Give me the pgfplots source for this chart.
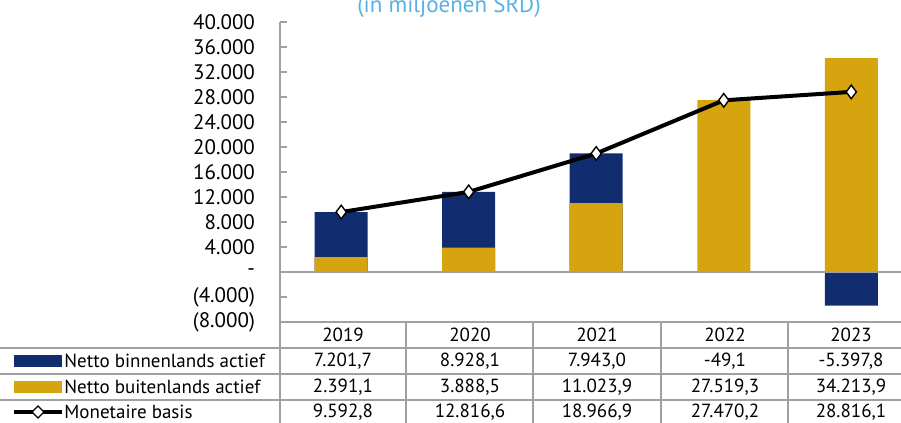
\documentclass[border=0pt]{standalone}
\usepackage{pgfplots}
\pgfplotsset{compat=1.18}
\usepackage{fontspec}
\setmainfont{PT Sans}
\definecolor{navy}{RGB}{18,44,112}
\definecolor{goldbar}{RGB}{214,164,14}
\definecolor{titleblue}{RGB}{86,178,230}
\definecolor{gridgray}{RGB}{160,160,160}
\begin{document}
\begin{tikzpicture}
\begin{axis}[
  at={(140pt,-161pt)}, anchor=south west,
  scale only axis, width=310.5pt, height=150pt,
  xmin=-0.48, xmax=4.39, ymin=-8000, ymax=40000,
  axis y line*=left, axis x line=none,
  y axis line style={gridgray, line width=0.9pt, -},
  scaled y ticks=false,
  ytick={-8000,-4000,...,40000},
  yticklabels={(8.000),(4.000),-,4.000,8.000,12.000,16.000,20.000,24.000,28.000,32.000,36.000,40.000},
  yticklabel style={font=\fontsize{10.5}{11}\selectfont, xshift=-9pt},
  ytick style={gridgray, line width=0.8pt},
  tick align=inside, major tick length=3.5pt,
  clip=false,
]
% blue: total height where positive (binnenlands sits on top of buitenlands), own value where negative
\addplot[ybar, bar width=26.5pt, bar shift=0pt, fill=navy, draw=none]
  coordinates {(0,9592.8) (1,12816.6) (2,18966.9) (3,-49.1) (4,-5397.8)};
\addplot[ybar, bar width=26.5pt, bar shift=0pt, fill=goldbar, draw=none]
  coordinates {(0,2391.1) (1,3888.5) (2,11023.9) (3,27519.3) (4,34213.9)};
\draw[gridgray, line width=0.9pt] (axis cs:-0.48,0) -- (axis cs:4.39,0);
\addplot[sharp plot, black, line width=2pt, mark=diamond*, mark size=3.4pt,
  mark options={fill=white, draw=black, line width=0.7pt}]
  coordinates {(0,9592.8) (1,12816.6) (2,18966.9) (3,27470.2) (4,28816.1)};
\end{axis}
\begin{scope}[x=0.5pt, y=-0.5pt]
  \node[titleblue, font=\fontsize{11.5}{13}\selectfont, anchor=base] at (449,12.5) {(in miljoenen SRD)};
  \draw[gridgray, line width=0.8pt]
    (280,322) -- (901,322)
    (0,348) -- (901,348)
    (0,374) -- (901,374)
    (0,400) -- (901,400)
    (280,322) -- (280,423)
    (406,322) -- (406,423)
    (533,322) -- (533,423)
    (661,322) -- (661,423)
    (788,322) -- (788,423);
  \begin{scope}[font=\fontsize{9.5}{10}\selectfont]
    \foreach \x/\t in {343/2019, 470/2020, 597/2021, 725/2022, 851/2023}
      \node at (\x,335) {\t};
    \node at (343,361) {7.201,7};
    \node at (470,361) {8.928,1};
    \node at (597,361) {7.943,0};
    \node at (725,361) {-49,1};
    \node at (851,361) {-5.397,8};
    \node at (343,387) {2.391,1};
    \node at (470,387) {3.888,5};
    \node at (597,387) {11.023,9};
    \node at (725,387) {27.519,3};
    \node at (851,387) {34.213,9};
    \node at (343,412) {9.592,8};
    \node at (470,412) {12.816,6};
    \node at (597,412) {18.966,9};
    \node at (725,412) {27.470,2};
    \node at (851,412) {28.816,1};
    \fill[navy] (14,355) rectangle (62,367);
    \fill[goldbar] (14,381) rectangle (62,393);
    \draw[black, line width=2pt] (14,412) -- (62,412);
    \draw[black, fill=white, line width=0.7pt] (38,406) -- (44,412) -- (38,418) -- (32,412) -- cycle;
    \node[anchor=west, inner sep=1pt] at (62,361) {Netto binnenlands actief};
    \node[anchor=west, inner sep=1pt] at (62,387) {Netto buitenlands actief};
    \node[anchor=west, inner sep=1pt] at (62,412) {Monetaire basis};
  \end{scope}
\end{scope}
\pgfresetboundingbox
\useasboundingbox (0,0) rectangle (450.5pt,-211.5pt);
\end{tikzpicture}
\end{document}
